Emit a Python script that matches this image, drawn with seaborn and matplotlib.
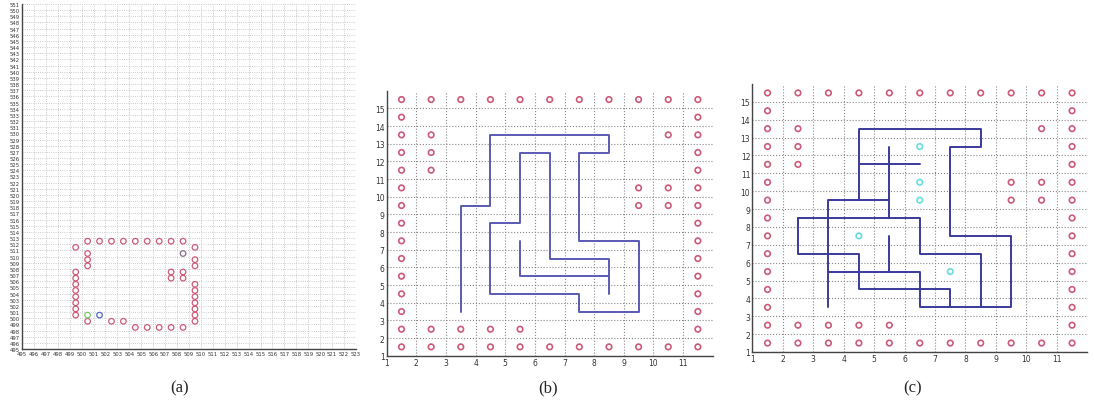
import numpy as np
import pandas as pd
import matplotlib.pyplot as plt
import seaborn as sns

# ---- panel (a): obstacle ring in the 495..523 x 495..551 map
a_red = [(500.5, 512.5), (501.5, 512.5), (502.5, 512.5), (503.5, 512.5), (504.5, 512.5),
         (505.5, 512.5), (506.5, 512.5), (507.5, 512.5), (508.5, 512.5),
         (499.5, 511.5), (509.5, 511.5),
         (500.5, 510.5),
         (500.5, 509.5), (509.5, 509.5),
         (500.5, 508.5), (509.5, 508.5),
         (499.5, 507.5), (507.5, 507.5), (508.5, 507.5),
         (499.5, 506.5), (507.5, 506.5), (508.5, 506.5),
         (499.5, 505.5), (509.5, 505.5),
         (499.5, 504.5), (509.5, 504.5),
         (499.5, 503.5), (509.5, 503.5),
         (499.5, 502.5), (509.5, 502.5),
         (499.5, 501.5), (509.5, 501.5),
         (499.5, 500.5), (509.5, 500.5),
         (500.5, 499.5), (502.5, 499.5), (503.5, 499.5), (509.5, 499.5),
         (504.5, 498.5), (505.5, 498.5), (506.5, 498.5), (507.5, 498.5), (508.5, 498.5)]
a_grey = [(508.5, 510.5)]
a_start = [(500.5, 500.5)]
a_goal = [(501.5, 500.5)]

# ---- panels (b) and (c): obstacle border on the 1..12 x 1..16 grid
bc_red_full_rows = [15.5, 1.5]
bc_red_x = [1.5, 2.5, 3.5, 4.5, 5.5, 6.5, 7.5, 8.5, 9.5, 10.5, 11.5]
bc_red_extra = [(1.5, 14.5), (11.5, 14.5),
                (1.5, 13.5), (2.5, 13.5), (10.5, 13.5), (11.5, 13.5),
                (1.5, 12.5), (2.5, 12.5), (11.5, 12.5),
                (1.5, 11.5), (2.5, 11.5), (11.5, 11.5),
                (1.5, 10.5), (9.5, 10.5), (10.5, 10.5), (11.5, 10.5),
                (1.5, 9.5), (9.5, 9.5), (10.5, 9.5), (11.5, 9.5),
                (1.5, 8.5), (11.5, 8.5),
                (1.5, 7.5), (11.5, 7.5),
                (1.5, 6.5), (11.5, 6.5),
                (1.5, 5.5), (11.5, 5.5),
                (1.5, 4.5), (11.5, 4.5),
                (1.5, 3.5), (11.5, 3.5),
                (1.5, 2.5), (2.5, 2.5), (3.5, 2.5), (4.5, 2.5), (5.5, 2.5), (11.5, 2.5)]
c_cyan = [(6.5, 12.5), (6.5, 10.5), (6.5, 9.5), (4.5, 7.5), (7.5, 5.5)]

b_paths = [
    [(3.5, 3.5), (3.5, 9.5), (4.5, 9.5), (4.5, 13.5), (8.5, 13.5), (8.5, 12.5), (7.5, 12.5),
     (7.5, 7.5), (9.5, 7.5), (9.5, 3.5), (7.5, 3.5), (7.5, 4.5), (4.5, 4.5), (4.5, 8.5),
     (5.5, 8.5), (5.5, 12.5), (6.5, 12.5), (6.5, 6.5), (8.5, 6.5), (8.5, 4.5)],
    [(5.5, 7.5), (5.5, 5.5), (8.5, 5.5)],
]
c_paths = [
    [(3.5, 3.5), (3.5, 9.5), (5.5, 9.5)],
    [(4.5, 9.5), (4.5, 13.5), (8.5, 13.5), (8.5, 12.5), (7.5, 12.5), (7.5, 7.5), (9.5, 7.5),
     (9.5, 3.5), (6.5, 3.5), (6.5, 5.5), (3.5, 5.5)],
    [(5.5, 12.5), (5.5, 8.5)],
    [(2.5, 8.5), (6.5, 8.5), (6.5, 6.5), (8.5, 6.5), (8.5, 3.5)],
    [(2.5, 8.5), (2.5, 6.5), (4.5, 6.5), (4.5, 4.5), (7.5, 4.5), (7.5, 3.5)],
    [(5.5, 7.5), (5.5, 5.5)],
    [(4.5, 11.5), (6.5, 11.5)],
]


def pts_df(pts):
    return pd.DataFrame(pts, columns=['x', 'y'])


def paths_df(paths):
    rows = []
    for i, p in enumerate(paths):
        for j, (x, y) in enumerate(p):
            rows.append({'seg': i, 'order': j, 'x': x, 'y': y})
    return pd.DataFrame(rows)


def ring(ax, pts, color, s, lw):
    sns.scatterplot(data=pts_df(pts), x='x', y='y', ax=ax, marker='o', s=s,
                    facecolor='none', edgecolor=color, linewidth=lw, zorder=3)


def style_axes(ax, fs, tick_len):
    sns.despine(ax=ax)
    for sp in ['left', 'bottom']:
        ax.spines[sp].set_color('#444444')
        ax.spines[sp].set_linewidth(1.0)
    ax.tick_params(direction='in', length=tick_len, width=0.8, labelsize=fs,
                   colors='#333333', pad=1.5)
    ax.set_xlabel('')
    ax.set_ylabel('')


sns.set_style('white')
plt.rcParams['font.family'] = ['DejaVu Sans']

fig = plt.figure(figsize=(10.94, 4.06), dpi=100)
W, H = 1094, 406
ax_a = fig.add_axes([22 / W, 1 - 350 / H, 334 / W, 345 / H])
ax_b = fig.add_axes([386.7 / W, 1 - 356.7 / H, 326 / W, 265 / H])
ax_c = fig.add_axes([752.3 / W, 1 - 353 / H, 335 / W, 268 / H])

red = '#cc5a78'

# (a)
ring(ax_a, a_red, red, 16, 0.9)
ring(ax_a, a_grey, '#8a6f8f', 16, 0.9)
ring(ax_a, a_start, '#77cc66', 16, 0.9)
ring(ax_a, a_goal, '#5566cc', 16, 0.9)
ax_a.set_xlim(495, 523)
ax_a.set_ylim(495, 551)
ax_a.set_xticks(range(495, 524))
ax_a.set_yticks(range(495, 552))
ax_a.grid(True, ls=':', color='#bbbbbb', lw=0.6)
style_axes(ax_a, 3.8, 5)

# (b) and (c)
full_rows = [(x, y) for y in bc_red_full_rows for x in bc_red_x]
ring(ax_c, c_cyan, '#66dde0', 16, 1.2)
for ax, paths, lc in [(ax_b, b_paths, '#5a5ab4'), (ax_c, c_paths, '#3a3a9c')]:
    ring(ax, full_rows + bc_red_extra, red, 16, 1.2)
    sns.lineplot(data=paths_df(paths), x='x', y='y', units='seg', estimator=None,
                 sort=False, color=lc, lw=1.4, ax=ax, zorder=2)
    ax.set_xlim(1, 12)
    ax.set_ylim(1, 16)
    ax.set_xticks(range(1, 12))
    ax.set_yticks(range(1, 16))
    ax.grid(True, ls=':', color='#888888', lw=0.8)
    style_axes(ax, 5.5, 2)

for x, lab in [(180, '(a)'), (548, '(b)'), (913, '(c)')]:
    fig.text(x / W, 1 - 388 / H, lab, ha='center', va='center', fontsize=12,
             family=['Liberation Serif'])

fig.savefig('out.png', dpi=100)
